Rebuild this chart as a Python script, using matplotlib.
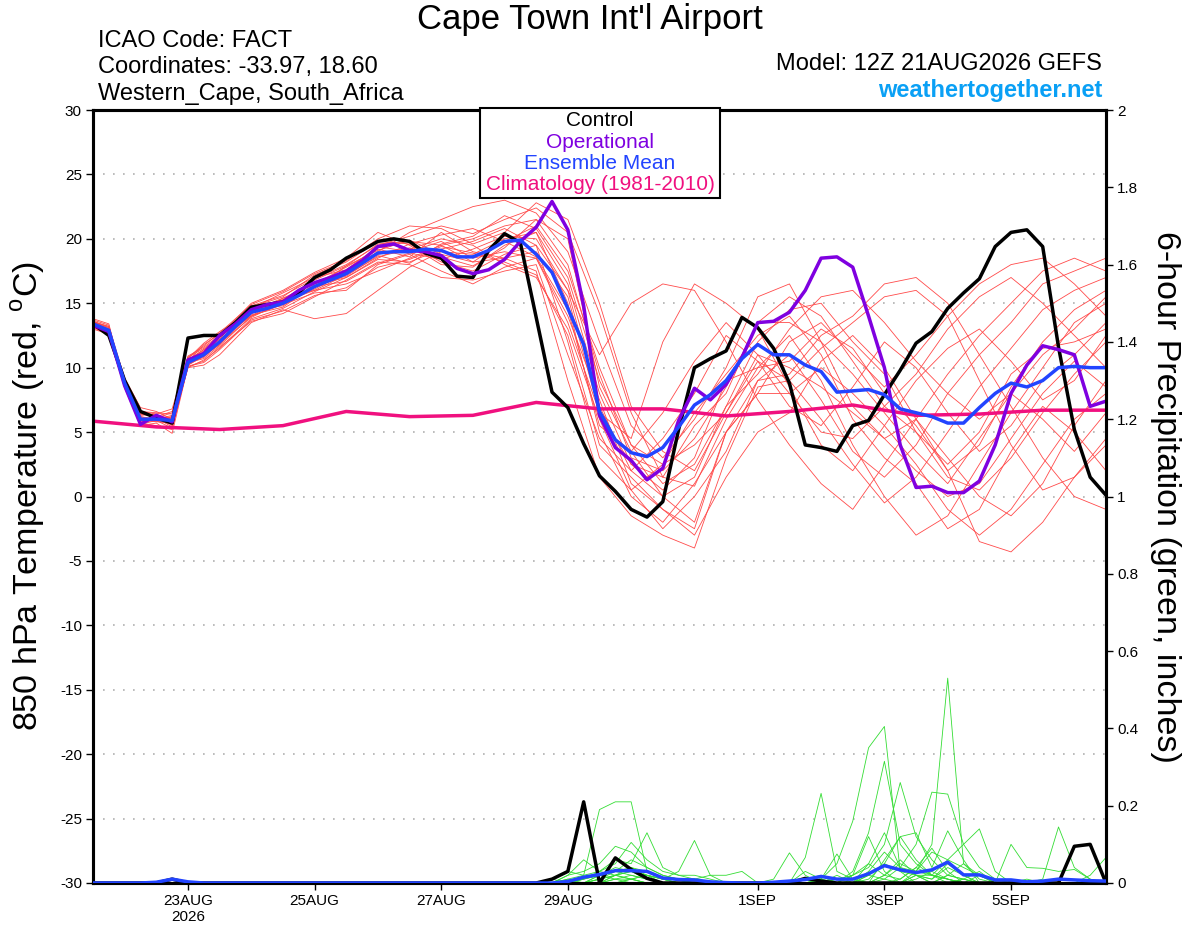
import numpy as np
import matplotlib.pyplot as plt
from matplotlib.patches import Rectangle
from matplotlib.ticker import FormatStrFormatter

plt.rcParams['font.family'] = ['Liberation Sans', 'DejaVu Sans']
plt.rcParams['mathtext.fontset'] = 'custom'
plt.rcParams['mathtext.rm'] = 'Liberation Sans'
plt.rcParams['axes.unicode_minus'] = False

# ---- data (6-hourly from 12Z 21AUG2026, x in days) ----
control = [13.4, 12.5, 9.0, 6.6, 6.1, 5.7, 12.3, 12.5, 12.5, 13.5,
           14.7, 14.9, 15.1, 15.8, 17.0, 17.6, 18.5, 19.1, 19.8, 20.0,
           19.8, 18.9, 18.5, 17.1, 17.0, 19.1, 20.4, 19.7, 13.9, 8.1,
           6.9, 4.1, 1.6, 0.4, -1.0, -1.6, -0.4, 5.2, 10.0, 10.7,
           11.3, 13.9, 13.1, 11.5, 8.8, 4.0, 3.8, 3.5, 5.5, 5.9,
           7.9, 9.8, 11.9, 12.8, 14.6, 15.8, 16.9, 19.4, 20.5, 20.7,
           19.4, 11.6, 5.2, 1.5, 0.1]
operational = [13.3, 12.8, 8.6, 5.6, 6.3, 5.8, 10.6, 11.1, 12.5, 13.4,
               14.5, 14.9, 15.1, 16.0, 16.6, 17.0, 17.5, 18.3, 19.4, 19.6,
               19.1, 19.0, 18.7, 17.7, 17.3, 17.6, 18.4, 19.8, 20.9, 22.9,
               20.7, 14.8, 6.3, 3.8, 2.8, 1.3, 2.2, 5.9, 8.4, 7.5,
               8.7, 10.8, 13.5, 13.6, 14.3, 16.0, 18.5, 18.6, 17.8, 14.0,
               10.0, 4.0, 0.7, 0.8, 0.3, 0.3, 1.2, 4.0, 8.0, 10.2,
               11.7, 11.4, 11.0, 7.0, 7.4]
ens_mean = [13.4, 12.9, 8.8, 6.0, 6.0, 5.9, 10.4, 11.0, 12.0, 13.2,
            14.3, 14.6, 15.0, 15.6, 16.3, 16.8, 17.3, 18.1, 18.9, 19.0,
            19.0, 19.2, 19.1, 18.6, 18.6, 19.1, 19.8, 19.9, 18.8, 17.4,
            14.6, 11.8, 6.6, 4.4, 3.4, 3.1, 3.8, 5.4, 7.1, 7.9,
            9.0, 10.7, 11.8, 11.0, 11.0, 10.2, 9.7, 8.1, 8.2, 8.3,
            7.9, 6.8, 6.5, 6.2, 5.7, 5.7, 6.9, 8.0, 8.8, 8.5,
            9.0, 10.0, 10.1, 10.0, 10.0]
# daily climatology
climatology = [5.85, 5.4, 5.2, 5.5, 6.6, 6.2, 6.3, 7.3, 6.8, 6.8,
               6.25, 6.6, 7.1, 6.3, 6.4, 6.7, 6.7]

# 6-hour precip (inches)
control_precip = [0, 0, 0, 0, 0, 0.01, 0, 0, 0, 0,
                  0, 0, 0, 0, 0, 0, 0, 0, 0, 0,
                  0, 0, 0, 0, 0, 0, 0, 0, 0.0, 0.01,
                  0.03, 0.21, 0.0, 0.065, 0.035, 0.012, 0, 0, 0, 0,
                  0, 0, 0, 0, 0, 0.012, 0.005, 0, 0, 0,
                  0, 0, 0, 0, 0, 0, 0, 0, 0, 0,
                  0, 0, 0.095, 0.10, 0]
mean_precip = [0, 0, 0, 0, 0.002, 0.01, 0.003, 0, 0, 0,
               0, 0, 0, 0, 0, 0, 0, 0, 0, 0,
               0, 0, 0, 0, 0, 0, 0, 0, 0, 0,
               0.004, 0.015, 0.022, 0.032, 0.032, 0.03, 0.013, 0.009, 0.008, 0.003,
               0.001, 0, 0, 0.002, 0.005, 0.009, 0.017, 0.01, 0.01, 0.024,
               0.045, 0.034, 0.027, 0.034, 0.054, 0.021, 0.021, 0.008, 0.008, 0.003,
               0.005, 0.01, 0.008, 0.006, 0.005]

# ensemble members: 6-hourly for the first 2 days ...
red_early = [
    [13.6, 13.0, 8.6, 6.1, 5.8, 6.2, 10.8, 11.5],
    [13.2, 12.7, 9.0, 6.4, 6.3, 5.5, 10.0, 10.6],
    [13.5, 13.2, 9.2, 6.9, 6.6, 6.0, 10.6, 11.4],
    [13.3, 12.6, 8.5, 5.7, 5.5, 5.2, 10.2, 10.9],
    [13.6, 13.1, 8.9, 6.0, 6.1, 6.5, 10.5, 11.8],
    [13.1, 12.9, 9.1, 6.2, 5.9, 5.6, 10.0, 10.2],
    [13.7, 13.3, 8.7, 6.3, 6.4, 6.8, 10.9, 11.6],
    [13.4, 12.8, 8.8, 5.8, 6.0, 5.9, 10.3, 11.0],
    [13.2, 12.5, 8.4, 5.5, 5.7, 4.9, 10.1, 10.5],
    [13.5, 13.0, 9.0, 6.5, 6.2, 6.1, 10.6, 11.3],
    [13.8, 13.4, 8.6, 6.1, 6.0, 5.8, 10.7, 11.9],
    [13.0, 12.6, 8.7, 6.6, 6.5, 6.4, 10.4, 10.8],
    [13.4, 12.9, 8.9, 5.6, 5.9, 5.3, 10.2, 11.1],
    [13.6, 13.1, 8.8, 6.4, 6.2, 6.6, 10.5, 11.2],
    [13.3, 12.8, 8.6, 5.9, 5.8, 5.7, 10.4, 10.7],
    [13.5, 13.0, 9.1, 6.2, 6.0, 6.3, 10.6, 11.4],
    [13.1, 12.6, 8.5, 6.0, 6.1, 5.4, 10.1, 10.4],
    [13.6, 13.2, 9.0, 6.5, 6.3, 6.0, 10.8, 11.7],
    [13.2, 12.7, 8.7, 6.6, 6.4, 5.6, 10.2, 10.9],
    [13.4, 12.9, 8.8, 5.9, 6.0, 6.2, 10.5, 11.2],
]
# ... then 12-hourly from 12Z 23AUG to 12Z 6SEP
red_late = [
    [12.4, 14.8, 15.6, 16.9, 18.0, 19.5, 20.2, 21.0, 20.4, 21.5, 22.4, 20.5, 14.2, 6.5, 1.5, 0.8, 6.0, 10.0, 10.5, 13.0, 11.5, 8.0, 5.5, 2.0, 4.0, 8.5, 12.0, 14.5, 16.0],
    [11.5, 13.8, 14.6, 15.9, 17.0, 18.5, 19.6, 18.2, 17.5, 18.8, 19.5, 12.0, 3.0, 0.5, 2.5, 6.5, 9.5, 12.5, 14.0, 11.0, 6.0, 3.0, 1.0, -2.5, -1.0, 3.5, 7.0, 5.0, 2.0],
    [12.2, 14.0, 15.4, 16.0, 16.5, 17.5, 18.5, 19.5, 20.0, 21.0, 21.5, 18.0, 9.5, 3.0, 2.0, 4.5, 8.5, 13.5, 15.5, 14.0, 10.5, 7.0, 9.5, 13.0, 15.5, 17.0, 15.0, 12.5, 10.0],
    [11.8, 14.5, 14.8, 16.5, 17.8, 19.2, 18.6, 20.5, 19.0, 18.5, 17.5, 9.0, 1.5, -1.5, -3.0, -4.0, 3.0, 8.5, 9.0, 11.5, 13.5, 15.5, 16.0, 14.0, 9.0, 4.0, 0.5, 1.5, 4.5],
    [12.6, 14.0, 14.9, 15.8, 16.0, 18.0, 18.8, 17.5, 16.5, 17.8, 18.5, 13.5, 6.5, 4.5, 12.0, 16.5, 15.0, 13.0, 8.5, 4.0, 2.0, 5.5, 9.0, 11.5, 13.0, 10.5, 7.5, 9.0, 12.5],
    [11.0, 13.5, 14.5, 13.8, 14.2, 16.0, 17.8, 19.0, 18.8, 20.0, 20.5, 16.5, 8.0, 2.5, 0.5, 3.0, 9.0, 10.0, 12.5, 9.0, 4.0, 0.0, -3.0, -1.5, 2.5, 6.5, 10.0, 13.5, 15.0],
    [12.5, 15.0, 16.0, 17.4, 18.5, 20.5, 19.5, 18.0, 17.8, 19.5, 20.5, 15.0, 5.0, 0.0, -2.0, 1.0, 5.0, 9.0, 11.0, 7.5, 3.5, 1.5, 4.0, 8.0, 11.0, 13.5, 16.5, 17.5, 18.5],
    [12.0, 14.2, 15.2, 16.6, 17.5, 19.0, 20.5, 21.5, 22.5, 23.0, 22.0, 19.0, 12.0, 5.5, 3.0, 6.0, 10.0, 15.5, 16.5, 12.0, 7.0, 4.5, 6.0, 3.0, 0.0, -1.5, 1.0, 5.5, 9.0],
    [11.6, 13.6, 14.2, 15.5, 16.8, 18.2, 18.0, 17.0, 16.8, 17.5, 18.0, 11.0, 4.5, 2.0, 4.5, 8.0, 12.5, 10.5, 7.0, 5.5, 8.5, 12.0, 10.0, 6.5, 3.5, 5.5, 9.0, 11.0, 13.5],
    [12.3, 14.6, 15.8, 17.0, 17.6, 19.4, 19.0, 19.8, 18.5, 19.0, 18.5, 14.0, 7.5, 1.0, -1.0, -3.0, 1.5, 5.0, 6.5, 10.5, 12.5, 10.0, 6.0, 2.0, -3.5, -4.3, -2.0, 1.5, 4.0],
    [12.8, 14.4, 15.0, 16.2, 17.9, 19.1, 19.9, 18.8, 18.2, 19.8, 21.0, 17.5, 10.0, 4.0, 1.0, 2.5, 7.0, 12.0, 14.5, 15.0, 12.0, 9.5, 5.0, 1.5, 0.5, 3.0, 6.5, 9.5, 12.0],
    [11.9, 13.9, 15.1, 16.0, 17.2, 18.6, 19.2, 20.0, 19.5, 18.0, 17.0, 13.0, 6.0, 0.5, -2.5, 0.0, 3.5, 9.0, 9.5, 12.5, 14.0, 16.5, 17.0, 15.0, 11.0, 7.0, 3.0, 0.0, -1.0],
    [12.1, 14.1, 14.7, 16.4, 17.0, 18.4, 18.2, 19.2, 19.8, 20.8, 19.5, 16.0, 11.0, 15.0, 16.5, 16.0, 12.0, 7.5, 4.0, 1.0, -1.0, 2.5, 6.0, 9.5, 12.5, 15.0, 17.5, 18.5, 17.5],
    [12.2, 14.3, 15.3, 16.8, 17.9, 19.6, 19.8, 19.5, 18.2, 18.5, 19.0, 15.5, 6.5, 2.5, 1.5, 5.5, 8.0, 13.5, 13.5, 12.0, 9.5, 6.5, 3.5, 1.0, 4.5, 8.0, 6.0, 3.5, 6.5],
    [11.7, 14.0, 15.0, 16.1, 17.4, 18.8, 19.3, 18.6, 17.9, 19.3, 21.5, 20.0, 8.5, 3.5, 0.0, -2.0, 5.0, 8.0, 12.0, 13.5, 11.0, 8.5, 11.0, 14.0, 16.5, 18.0, 18.5, 16.5, 14.0],
    [12.4, 14.7, 15.5, 17.2, 18.2, 19.8, 19.6, 20.3, 20.8, 19.8, 18.6, 14.5, 5.5, 3.5, 6.5, 10.5, 13.5, 11.0, 8.0, 5.0, 4.5, 7.0, 5.0, 2.5, 5.0, 9.5, 11.5, 12.0, 13.0],
    [11.4, 13.7, 14.4, 15.6, 16.2, 17.8, 18.4, 19.4, 18.9, 18.2, 17.2, 12.5, 4.0, 1.5, -1.0, -2.5, 5.0, 8.0, 8.0, 10.0, 8.0, 5.5, 2.5, -1.0, -3.0, -1.0, 2.5, 6.0, 8.0],
    [12.7, 14.9, 15.9, 17.3, 18.3, 20.0, 21.0, 20.8, 19.6, 20.5, 22.8, 21.5, 15.0, 7.0, 3.5, 2.0, 6.5, 10.5, 9.0, 6.0, 2.5, -0.5, 1.5, 5.0, 8.5, 11.5, 14.5, 16.0, 17.0],
    [11.8, 14.2, 15.1, 16.3, 16.7, 18.1, 18.9, 18.4, 19.2, 20.2, 20.0, 16.0, 7.0, 2.0, 0.0, 1.5, 7.0, 9.5, 13.0, 15.5, 16.0, 13.5, 10.5, 8.0, 6.0, 8.0, 11.0, 13.0, 15.5],
    [12.0, 14.4, 15.4, 16.5, 17.1, 18.7, 18.1, 19.6, 20.2, 21.8, 20.8, 17.0, 9.0, 4.0, 2.5, 4.0, 6.5, 11.0, 10.0, 8.5, 6.5, 4.5, 2.0, 0.0, 1.0, 4.5, 8.0, 10.5, 8.5],
]

# member precip, 6-hourly from 12Z 28AUG (index 28) onward; dry before
green_members = [
    [0, 0.01, 0.03, 0.02, 0.19, 0.21, 0.21, 0.03, 0.01, 0.01, 0, 0, 0, 0, 0, 0, 0, 0.01, 0, 0.01, 0.02, 0.05, 0.13, 0.04, 0.02, 0.01, 0.05, 0.02, 0, 0, 0, 0, 0, 0, 0, 0, 0],
    [0, 0, 0.01, 0.02, 0.03, 0.06, 0.05, 0.13, 0.04, 0.02, 0.01, 0, 0, 0, 0, 0, 0, 0, 0, 0.02, 0, 0.05, 0.02, 0.01, 0.04, 0.02, 0, 0.01, 0, 0, 0, 0, 0, 0, 0, 0, 0],
    [0, 0, 0, 0.01, 0.02, 0.03, 0.04, 0.02, 0.01, 0.03, 0.11, 0.02, 0, 0, 0, 0, 0, 0, 0.01, 0, 0.02, 0.12, 0.03, 0, 0.01, 0.03, 0.01, 0, 0.02, 0, 0, 0.01, 0, 0, 0, 0, 0],
    [0, 0, 0.02, 0.03, 0.05, 0.095, 0.08, 0.04, 0.02, 0.01, 0.01, 0, 0, 0, 0, 0.01, 0.078, 0.02, 0, 0, 0, 0.02, 0.05, 0.03, 0, 0, 0.02, 0.01, 0, 0, 0, 0, 0, 0, 0, 0, 0],
    [0, 0, 0, 0, 0.01, 0.02, 0.04, 0.03, 0.01, 0, 0, 0, 0, 0, 0, 0, 0, 0.066, 0.232, 0.03, 0.01, 0, 0.02, 0.06, 0.02, 0, 0, 0.01, 0.03, 0, 0, 0, 0, 0, 0, 0, 0],
    [0, 0, 0, 0.01, 0.03, 0.02, 0.01, 0, 0, 0, 0, 0, 0, 0, 0, 0, 0, 0, 0.01, 0.05, 0.16, 0.35, 0.405, 0.03, 0.02, 0.01, 0.04, 0.02, 0, 0, 0, 0, 0, 0, 0, 0, 0],
    [0, 0.01, 0, 0, 0.02, 0.04, 0.03, 0.02, 0.01, 0, 0, 0, 0, 0, 0, 0, 0, 0.01, 0.02, 0, 0.03, 0.13, 0.315, 0.1, 0.05, 0.02, 0.01, 0, 0, 0, 0, 0, 0, 0, 0, 0, 0],
    [0, 0, 0, 0, 0.01, 0.03, 0.02, 0.01, 0, 0, 0.01, 0, 0, 0, 0, 0, 0, 0, 0, 0, 0.02, 0.04, 0.1, 0.26, 0.12, 0.06, 0.02, 0.01, 0, 0, 0, 0, 0, 0, 0, 0, 0],
    [0, 0, 0, 0, 0, 0.02, 0.03, 0.01, 0, 0, 0, 0, 0, 0, 0, 0, 0, 0, 0.01, 0, 0, 0.02, 0.01, 0.04, 0.03, 0.1, 0.53, 0.05, 0.02, 0, 0, 0, 0, 0, 0, 0, 0],
    [0, 0, 0, 0, 0.02, 0.01, 0.01, 0, 0, 0, 0, 0, 0, 0, 0, 0, 0, 0, 0, 0.01, 0, 0.03, 0.08, 0.04, 0.1, 0.235, 0.23, 0.1, 0.04, 0.01, 0, 0, 0, 0, 0, 0, 0],
    [0, 0, 0, 0, 0, 0.01, 0.02, 0.01, 0, 0, 0, 0, 0, 0, 0, 0, 0, 0, 0, 0, 0, 0.01, 0.05, 0.12, 0.06, 0.02, 0.06, 0.1, 0.14, 0.03, 0, 0, 0, 0, 0, 0, 0],
    [0, 0, 0, 0, 0, 0.02, 0.01, 0, 0, 0, 0, 0, 0, 0, 0, 0, 0, 0, 0, 0, 0, 0, 0.02, 0.05, 0.03, 0.08, 0.06, 0.04, 0.02, 0, 0.1, 0.04, 0.038, 0.03, 0.035, 0.01, 0],
    [0, 0, 0, 0, 0, 0, 0.01, 0.02, 0, 0, 0, 0, 0, 0, 0, 0, 0, 0, 0, 0, 0, 0, 0.01, 0, 0, 0, 0.02, 0.05, 0.01, 0, 0, 0, 0.01, 0.145, 0.04, 0.01, 0],
    [0, 0, 0, 0, 0, 0.01, 0, 0, 0, 0, 0, 0, 0, 0, 0, 0, 0, 0, 0, 0, 0, 0, 0, 0.01, 0.04, 0.09, 0.03, 0, 0, 0, 0, 0, 0, 0, 0, 0.02, 0.066],
    [0, 0, 0, 0.01, 0.02, 0.03, 0.06, 0.04, 0.02, 0.01, 0, 0, 0, 0, 0, 0, 0, 0.03, 0.01, 0.075, 0.01, 0, 0, 0, 0.03, 0.02, 0.01, 0, 0, 0, 0, 0, 0, 0, 0, 0, 0],
    [0, 0, 0, 0, 0, 0, 0.01, 0.02, 0.01, 0, 0, 0, 0, 0, 0, 0, 0, 0, 0, 0, 0, 0, 0.06, 0.12, 0.13, 0.04, 0.135, 0.06, 0, 0, 0, 0, 0, 0, 0, 0, 0],
    [0, 0, 0.02, 0.06, 0.03, 0.05, 0.105, 0.06, 0.03, 0.02, 0.02, 0.01, 0, 0, 0, 0, 0, 0, 0, 0, 0, 0, 0, 0, 0.02, 0, 0, 0, 0, 0, 0, 0, 0, 0, 0, 0, 0],
    [0, 0, 0.01, 0, 0.01, 0.02, 0.03, 0.02, 0.01, 0, 0.01, 0.02, 0.02, 0.03, 0, 0, 0, 0, 0, 0, 0, 0, 0, 0, 0.02, 0.02, 0.01, 0, 0, 0, 0, 0, 0, 0, 0, 0, 0],
]
green_start = 28

tick_days = [1.5, 3.5, 5.5, 7.5, 10.5, 12.5, 14.5]
tick_labels = ['23AUG\n2026', '25AUG', '27AUG', '29AUG', '1SEP', '3SEP', '5SEP']

# ---- plotting ----
t6 = np.arange(len(control)) / 4.0
t24 = np.arange(len(climatology)) * 1.0
n_early = len(red_early[0])
t_red = np.concatenate([t6[:n_early], 2.0 + np.arange(len(red_late[0])) / 2.0])

fig = plt.figure(figsize=(12, 9.27), dpi=100)
ax = fig.add_axes([93 / 1200, 1 - 883 / 927, (1106 - 93) / 1200, (883 - 110) / 927])
ax2 = ax.twinx()

for early, late in zip(red_early, red_late):
    ax.plot(t_red, early + late, color='#ff4a4a', lw=0.6, zorder=2)
ax.plot(t24, climatology, color='#f0107f', lw=2.5, zorder=3)
ax.plot(t6, control, color='black', lw=2.5, zorder=4)
ax.plot(t6, operational, color='#7f00e0', lw=2.5, zorder=5)
ax.plot(t6, ens_mean, color='#2244ff', lw=2.5, zorder=6)

for g in green_members:
    ax2.plot(t6[green_start:], g, color='#33dd33', lw=0.6, zorder=2)
ax2.plot(t6, control_precip, color='black', lw=2.5, zorder=4)
ax2.plot(t6, mean_precip, color='#2244ff', lw=2.5, zorder=5)

ax.set_xlim(0, 16)
ax.set_ylim(-30, 30)
ax2.set_ylim(0, 2)
ax.set_yticks(np.arange(-30, 31, 5))
ax2.set_yticks(np.arange(0, 2.01, 0.2))
ax2.yaxis.set_major_formatter(FormatStrFormatter('%g'))
ax.set_xticks(tick_days)
ax.set_xticklabels(tick_labels)

for a in (ax, ax2):
    for s in a.spines.values():
        s.set_linewidth(2.2)
    a.tick_params(direction='out', length=5, width=1, labelsize=11, pad=3)

for yv in np.arange(-25, 30, 5):
    ax.axhline(yv, color='#b0b0b0', lw=1.2, ls=(0, (1, 5)), zorder=1)

ax.set_ylabel(r'850 hPa Temperature (red, $^\mathregular{o}$C)', fontsize=24.5)
ax.yaxis.set_label_coords(-0.045, 0.5)
ax2.set_ylabel('6-hour Precipitation (green, inches)', fontsize=24.5, rotation=270)
ax2.yaxis.set_label_coords(1.074, 0.5)

# header texts
fig.text(590 / 1200, 1 - 20 / 927, "Cape Town Int'l Airport", ha='center', va='center', fontsize=25)
fig.text(98 / 1200, 1 - 41 / 927, 'ICAO Code: FACT', ha='left', va='center', fontsize=17)
fig.text(98 / 1200, 1 - 67 / 927, 'Coordinates: -33.97, 18.60', ha='left', va='center', fontsize=17)
fig.text(98 / 1200, 1 - 94 / 927, 'Western_Cape, South_Africa', ha='left', va='center', fontsize=17)
fig.text(1102 / 1200, 1 - 64 / 927, 'Model: 12Z 21AUG2026 GEFS', ha='right', va='center', fontsize=17)
fig.text(1102 / 1200, 1 - 90 / 927, 'weathertogether.net', ha='right', va='center',
         fontsize=17, fontweight='bold', color='#0aa0f5')

# legend box
fig.add_artist(Rectangle((480 / 1200, 1 - 198 / 927), 240 / 1200, 90 / 927,
                         transform=fig.transFigure, facecolor='white',
                         edgecolor='black', lw=1.5, zorder=5))
legend_items = [('Control', 'black'), ('Operational', '#7f00e0'),
                ('Ensemble Mean', '#2244ff'), ('Climatology (1981-2010)', '#f0107f')]
for k, (lab, col) in enumerate(legend_items):
    fig.text(600 / 1200, 1 - (121 + 21.3 * k) / 927, lab, ha='center', va='center',
             fontsize=15, color=col, zorder=6)

fig.savefig('out.png', dpi=100)
